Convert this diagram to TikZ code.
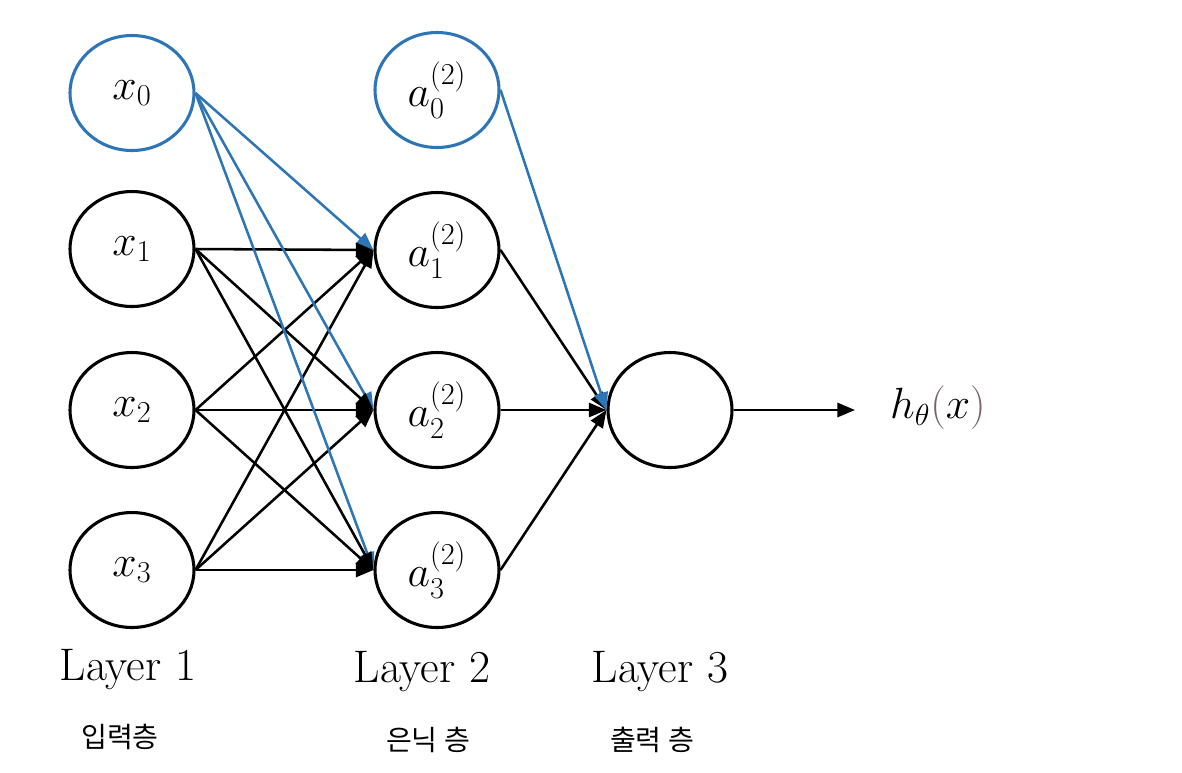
\documentclass[tikz,border=0pt]{standalone}
\usepackage{amsmath}
\usepackage{fontspec}
\usepackage{xcolor}
\usetikzlibrary{arrows.meta,positioning,shapes.geometric}
\newfontfamily\krfont{Noto Sans CJK KR}
\definecolor{nnblue}{RGB}{46,117,182}
\definecolor{parengray}{RGB}{120,100,100}

\begin{document}
\begin{tikzpicture}[
      x=0.02cm, y=-0.02cm,
      unit/.style={ellipse, draw=black, line width=1.75pt, minimum width=2.48cm, minimum height=2.3cm, inner sep=0pt, font=\fontsize{26}{30}\selectfont},
      bias/.style={unit, draw=nnblue},
      arr/.style={-{Triangle[length=10pt,width=8pt]}, line width=1.45pt, draw=black},
      barr/.style={arr, draw=nnblue},
      layer/.style={font=\fontsize{26}{30}\selectfont},
      kor/.style={font=\krfont\fontsize{16}{20}\selectfont}
    ]
      \useasboundingbox (0,0) rectangle (1182,772);
      % input layer
      \node[bias] (x0) at (132,93) {$x_0$};
      \node[unit] (x1) at (132,249) {$x_1$};
      \node[unit] (x2) at (132,410) {$x_2$};
      \node[unit] (x3) at (132,570) {$x_3$};
      % hidden layer
      \node[bias] (a0) at (437,90) {$a_0^{(2)}$};
      \node[unit] (a1) at (437,250) {$a_1^{(2)}$};
      \node[unit] (a2) at (437,410) {$a_2^{(2)}$};
      \node[unit] (a3) at (437,570) {$a_3^{(2)}$};
      % output layer
      \node[unit] (out) at (670,410) {};
      \coordinate (hend) at (855,410);
      \node[layer, anchor=west] (hx) at (884,408) {$h_\theta\textcolor{parengray}{(}x\textcolor{parengray}{)}$};
      % labels
      \node[layer] (l1) at (128,670) {Layer 1};
      \node[layer] (l2) at (422,672) {Layer 2};
      \node[layer] (l3) at (660,672) {Layer 3};
      \node[kor] (k1) at (120,737) {입력층};
      \node[kor] (k2) at (428,740) {은닉 층};
      \node[kor] (k3) at (652,740) {출력 층};
      % connections
      \foreach \i in {1,2,3} {
        \draw[barr] (x0.east) -- (a\i.west);
        \foreach \j in {1,2,3}
          \draw[arr] (x\j.east) -- (a\i.west);
        \draw[arr] (a\i.east) -- (out.west);
      }
      \draw[barr] (a0.east) -- (out.west);
      \draw[arr] (out.east) -- (hend);
    \end{tikzpicture}
\end{document}
